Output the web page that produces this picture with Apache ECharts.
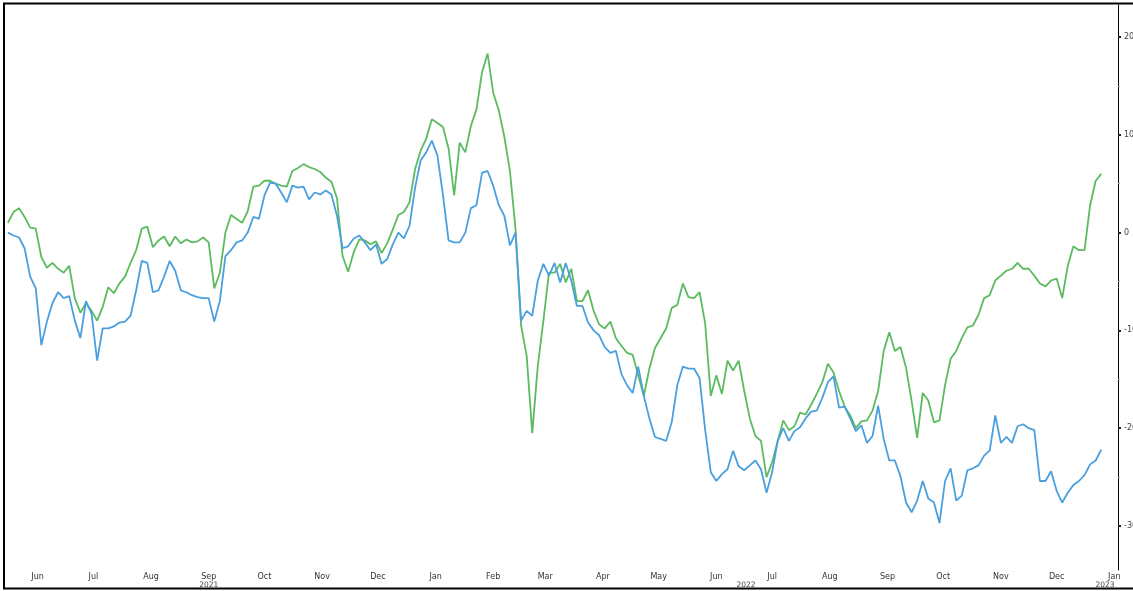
<!DOCTYPE html>
<html>
<head>
<meta charset="utf-8">
<script src="https://cdn.jsdelivr.net/npm/echarts@6/dist/echarts.min.js"></script>
<style>
html,body{margin:0;padding:0;background:#fff;}
#chart{width:1133px;height:591px;}
</style>
</head>
<body>
<div id="chart"></div>
<script>
const dates = [
'2021-05-16','2021-05-19','2021-05-22','2021-05-25','2021-05-28','2021-05-31',
'2021-06-03','2021-06-06','2021-06-09','2021-06-12','2021-06-15','2021-06-18','2021-06-21','2021-06-24','2021-06-27','2021-06-30',
'2021-07-03','2021-07-06','2021-07-09','2021-07-12','2021-07-15','2021-07-18','2021-07-21','2021-07-24','2021-07-27','2021-07-30',
'2021-08-02','2021-08-05','2021-08-08','2021-08-11','2021-08-14','2021-08-17','2021-08-20','2021-08-23','2021-08-26','2021-08-29',
'2021-09-01','2021-09-04','2021-09-07','2021-09-10','2021-09-13','2021-09-16','2021-09-19','2021-09-22','2021-09-25','2021-09-28',
'2021-10-01','2021-10-04','2021-10-07','2021-10-10','2021-10-13','2021-10-16','2021-10-19','2021-10-22','2021-10-25','2021-10-28','2021-10-31',
'2021-11-03','2021-11-06','2021-11-09','2021-11-12','2021-11-15','2021-11-18','2021-11-21','2021-11-24','2021-11-27','2021-11-30',
'2021-12-03','2021-12-06','2021-12-09','2021-12-12','2021-12-15','2021-12-18','2021-12-21','2021-12-24','2021-12-27','2021-12-30',
'2022-01-02','2022-01-05','2022-01-08','2022-01-11','2022-01-14','2022-01-17','2022-01-20','2022-01-23','2022-01-26','2022-01-29',
'2022-02-01','2022-02-04','2022-02-07','2022-02-10','2022-02-13','2022-02-16','2022-02-19','2022-02-22','2022-02-25','2022-02-28',
'2022-03-03','2022-03-06','2022-03-09','2022-03-12','2022-03-15','2022-03-18','2022-03-21','2022-03-24','2022-03-27','2022-03-30',
'2022-04-02','2022-04-05','2022-04-08','2022-04-11','2022-04-14','2022-04-17','2022-04-20','2022-04-23','2022-04-26','2022-04-29',
'2022-05-02','2022-05-05','2022-05-08','2022-05-11','2022-05-14','2022-05-17','2022-05-20','2022-05-23','2022-05-26','2022-05-29',
'2022-06-01','2022-06-04','2022-06-07','2022-06-10','2022-06-13','2022-06-16','2022-06-19','2022-06-22','2022-06-25','2022-06-28',
'2022-07-01','2022-07-04','2022-07-07','2022-07-10','2022-07-13','2022-07-16','2022-07-19','2022-07-22','2022-07-25','2022-07-28','2022-07-31',
'2022-08-03','2022-08-06','2022-08-09','2022-08-12','2022-08-15','2022-08-18','2022-08-21','2022-08-24','2022-08-27','2022-08-30',
'2022-09-02','2022-09-05','2022-09-08','2022-09-11','2022-09-14','2022-09-17','2022-09-20','2022-09-23','2022-09-26','2022-09-29',
'2022-10-02','2022-10-05','2022-10-08','2022-10-11','2022-10-14','2022-10-17','2022-10-20','2022-10-23','2022-10-26','2022-10-29',
'2022-11-01','2022-11-04','2022-11-07','2022-11-10','2022-11-13','2022-11-16','2022-11-19','2022-11-22','2022-11-25','2022-11-28',
'2022-12-01','2022-12-04','2022-12-07','2022-12-10','2022-12-13','2022-12-16','2022-12-19','2022-12-22','2022-12-25'
];

const greenValues = [
1.0, 2.1, 2.5, 1.6, 0.5, 0.4,
-2.5, -3.6, -3.1, -3.7, -4.1, -3.4, -6.7, -8.2, -7.2, -8.0,
-9.0, -7.6, -5.6, -6.2, -5.2, -4.5, -3.1, -1.8, 0.4, 0.6,
-1.5, -0.8, -0.4, -1.4, -0.4, -1.1, -0.7, -1.0, -0.9, -0.5,
-1.0, -5.7, -4.1, 0.0, 1.8, 1.4, 1.0, 2.2, 4.7, 4.8,
5.3, 5.3, 5.0, 4.8, 4.7, 6.3, 6.6, 7.0, 6.7, 6.5, 6.2,
5.6, 5.2, 3.5, -2.4, -4.0, -2.0, -0.7, -0.8, -1.2, -0.9,
-2.1, -1.1, 0.3, 1.8, 2.1, 3.1, 6.5, 8.4, 9.6, 11.6,
11.2, 10.8, 8.6, 3.8, 9.2, 8.2, 10.9, 12.6, 16.4, 18.3,
14.3, 12.5, 9.8, 6.3, 0.4, -9.5, -12.6, -20.5, -13.6, -9.0,
-4.1, -4.1, -3.2, -5.1, -3.7, -7.0, -7.0, -5.9, -8.0, -9.4,
-9.8, -9.1, -10.8, -11.6, -12.3, -12.5, -14.6, -16.7, -13.9, -11.8,
-10.8, -9.8, -7.7, -7.4, -5.2, -6.6, -6.7, -6.1, -9.3, -16.7,
-14.6, -16.5, -13.1, -14.1, -13.1, -16.2, -19.0, -20.8, -21.3, -25.0,
-23.5, -21.3, -19.2, -20.2, -19.8, -18.4, -18.6, -17.6, -16.5, -15.3, -13.4,
-14.3, -16.2, -17.8, -18.7, -20.0, -19.3, -19.2, -18.2, -16.2, -12.1,
-10.2, -12.1, -11.7, -13.8, -17.2, -21.0, -16.4, -17.2, -19.4, -19.2,
-15.6, -12.9, -12.1, -10.8, -9.7, -9.5, -8.4, -6.7, -6.4, -4.9,
-4.4, -3.9, -3.7, -3.1, -3.7, -3.7, -4.4, -5.2, -5.5, -4.9,
-4.7, -6.7, -3.4, -1.4, -1.8, -1.8, 2.8, 5.3, 6.0
];

const blueValues = [
0.0, -0.3, -0.5, -1.6, -4.5, -5.7,
-11.5, -9.1, -7.2, -6.1, -6.7, -6.5, -9.0, -10.8, -7.0, -8.3,
-13.1, -9.8, -9.8, -9.6, -9.2, -9.1, -8.5, -5.9, -2.9, -3.1,
-6.1, -5.9, -4.5, -2.9, -3.9, -5.9, -6.1, -6.4, -6.6, -6.7,
-6.7, -9.1, -7.0, -2.4, -1.8, -1.0, -0.8, 0.0, 1.6, 1.4,
3.8, 5.1, 5.0, 4.1, 3.1, 4.8, 4.6, 4.7, 3.4, 4.1, 3.9,
4.3, 3.9, 1.7, -1.6, -1.4, -0.6, -0.3, -1.0, -1.8, -1.2,
-3.2, -2.7, -1.2, 0.0, -0.6, 0.7, 4.6, 7.4, 8.2, 9.4,
7.9, 3.8, -0.8, -1.0, -1.0, 0.0, 2.5, 2.8, 6.1, 6.3,
4.8, 2.8, 1.7, -1.3, 0.0, -9.0, -8.0, -8.5, -4.9, -3.2,
-4.4, -3.1, -5.1, -3.1, -4.9, -7.5, -7.5, -9.2, -10.0, -10.5,
-11.7, -12.3, -12.1, -14.5, -15.6, -16.4, -13.7, -16.7, -19.0, -20.9,
-21.1, -21.3, -19.4, -15.6, -13.7, -13.9, -13.9, -14.9, -20.2, -24.5,
-25.4, -24.7, -24.2, -22.3, -23.9, -24.3, -23.8, -23.3, -24.2, -26.6,
-24.5, -21.3, -20.0, -21.3, -20.3, -19.9, -19.0, -18.3, -18.2, -16.9, -15.3,
-14.7, -17.9, -17.8, -19.0, -20.3, -19.7, -21.5, -20.8, -17.7, -21.1,
-23.3, -23.3, -24.9, -27.6, -28.6, -27.4, -25.4, -27.2, -27.6, -29.7,
-25.4, -24.1, -27.4, -26.9, -24.3, -24.1, -23.8, -22.8, -22.3, -18.7,
-21.5, -20.9, -21.5, -19.8, -19.6, -20.0, -20.2, -25.4, -25.4, -24.4,
-26.4, -27.6, -26.6, -25.8, -25.4, -24.8, -23.7, -23.3, -22.2
];

const monthTicks = [
'2021-06-01','2021-07-01','2021-08-01','2021-09-01','2021-10-01','2021-11-01','2021-12-01',
'2022-01-01','2022-02-01','2022-03-01','2022-04-01','2022-05-01','2022-06-01','2022-07-01',
'2022-08-01','2022-09-01','2022-10-01','2022-11-01','2022-12-01','2023-01-01'
];
const monthNames = ['Jan','Feb','Mar','Apr','May','Jun','Jul','Aug','Sep','Oct','Nov','Dec'];
const yearLabels = ['2021','2022','2023'];
const yearLabelDates = ['2021-09-01','2022-06-17','2022-12-27'];
const yTicks = [-30,-20,-10,0,10,20];
const yMinorTicks = [-25,-15,-5,5,15];

function ts(s){ const p = s.split('-').map(Number); return Date.UTC(p[0], p[1]-1, p[2]); }

const xMin = ts('2021-05-15');
const xMax = ts('2023-01-03');
const font = 'DejaVu Sans';

const chart = echarts.init(document.getElementById('chart'), null, {renderer:'canvas'});
chart.setOption({
  animation: false,
  backgroundColor: '#ffffff',
  grid: {left: 6, right: 15, top: 5, bottom: 21, containLabel: false, outerBoundsMode: 'none'},
  xAxis: [
    {
      type: 'value', min: xMin, max: xMax, position: 'bottom', scale: true,
      axisLine: {show: false}, axisTick: {show: false}, splitLine: {show: false},
      axisLabel: {
        customValues: monthTicks.map(ts),
        margin: 3, fontSize: 8, fontFamily: font, color: '#333',
        formatter: function(v){ return monthNames[new Date(v).getUTCMonth()]; }
      }
    },
    {
      type: 'value', min: xMin, max: xMax, position: 'bottom', scale: true,
      axisLine: {show: false}, axisTick: {show: false}, splitLine: {show: false},
      axisLabel: {
        customValues: yearLabelDates.map(ts),
        margin: 11, fontSize: 7.5, fontFamily: font, color: '#444',
        formatter: function(v){ return yearLabels[yearLabelDates.map(ts).indexOf(v)]; }
      }
    }
  ],
  yAxis: [
    {
      type: 'value', position: 'right', min: -34.5, max: 23.27,
      splitLine: {show: false},
      axisLine: {show: true, lineStyle: {color: '#000', width: 1}},
      axisTick: {show: true, customValues: yTicks, length: 3, inside: false, lineStyle: {color: '#222', width: 2}},
      axisLabel: {customValues: yTicks, margin: 6, fontSize: 8, fontFamily: font, color: '#444'}
    },
    {
      type: 'value', position: 'right', min: -34.5, max: 23.27,
      splitLine: {show: false},
      axisLine: {show: false},
      axisTick: {show: true, customValues: yMinorTicks, length: 2, inside: false, lineStyle: {color: '#aaa', width: 1}},
      axisLabel: {show: false}
    }
  ],
  series: [
    {
      name: 'Green', type: 'line', xAxisIndex: 0, yAxisIndex: 0,
      data: dates.map((d, i) => [ts(d), greenValues[i]]),
      showSymbol: false, symbol: 'none',
      lineStyle: {color: '#5cba5f', width: 1.8}, itemStyle: {color: '#5cba5f'}
    },
    {
      name: 'Blue', type: 'line', xAxisIndex: 0, yAxisIndex: 0,
      data: dates.map((d, i) => [ts(d), blueValues[i]]),
      showSymbol: false, symbol: 'none',
      lineStyle: {color: '#4a9fdf', width: 1.8}, itemStyle: {color: '#4a9fdf'}
    }
  ],
  graphic: [
    {type: 'rect', silent: true, z: 100,
     shape: {x: 4, y: 3.5, width: 1145, height: 585},
     style: {fill: 'none', stroke: '#000', lineWidth: 2}}
  ]
});
</script>
</body>
</html>
